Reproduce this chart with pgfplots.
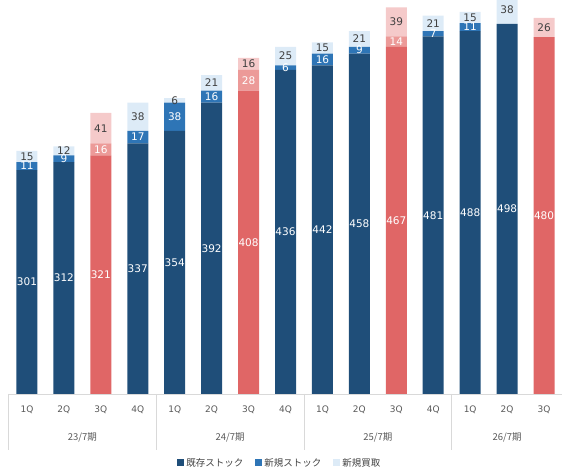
\documentclass[border=0pt]{standalone}
\usepackage{fontspec}
\setmainfont{DejaVu Sans}
\newfontfamily\jp{Noto Sans CJK JP}
\usepackage{pgfplots}
\usepackage{pgfplotstable}
\pgfplotsset{compat=1.18}
\definecolor{navy}{HTML}{1F4E79}
\definecolor{midblue}{HTML}{2E75B6}
\definecolor{lightblue}{HTML}{DDEBF7}
\definecolor{red1}{HTML}{E06666}
\definecolor{red2}{HTML}{EC9A98}
\definecolor{red3}{HTML}{F5CACA}
\definecolor{lblgray}{HTML}{404040}
\definecolor{axgray}{HTML}{D9D9D9}
\definecolor{txtgray}{HTML}{595959}

\pgfplotsset{
  lbl/.style={
    point meta=explicit,
    nodes near coords={\pgfmathfloatifflags{\pgfplotspointmeta}{0}{}{\pgfmathprintnumber[assume math mode=true]{\pgfplotspointmeta}}},
    nodes near coords align=center,
    every node near coord/.append style={font=\fontsize{10.5}{12}\selectfont, text=#1, inner sep=0pt},
  },
}

% columns: existing (blue / red), new stock (blue / red), new purchase (blue / red)
\pgfplotstableread{
x  eb  er  nb  nr  pb  pr
0  301 0   11  0   15  0
1  312 0   9   0   12  0
2  0   321 0   16  0   41
3  337 0   17  0   38  0
4  354 0   38  0   6   0
5  392 0   16  0   21  0
6  0   408 0   28  0   16
7  436 0   6   0   25  0
8  442 0   16  0   15  0
9  458 0   9   0   21  0
10 0   467 0   14  0   39
11 481 0   7   0   21  0
12 488 0   11  0   15  0
13 498 0   0   0   38  0
14 0   480 0   0   0   26
}\data

\begin{document}
\begin{tikzpicture}
\useasboundingbox (0,0) rectangle (562pt,470pt);
\begin{axis}[
  at={(8.5pt,76pt)}, anchor=south west,
  scale only axis, width=554pt, height=394pt,
  xmin=-0.5, xmax=14.5, ymin=0, ymax=530,
  ybar stacked, bar width=21pt,
  clip=false,
  axis y line=none,
  axis x line*=bottom,
  x axis line style={axgray, line width=0.8pt, -},
  xtick={0,...,14},
  xticklabels={1Q,2Q,3Q,4Q,1Q,2Q,3Q,4Q,1Q,2Q,3Q,4Q,1Q,2Q,3Q},
  major tick length=0pt,
  xticklabel style={anchor=center, yshift=-16pt, font=\fontsize{9}{10}\selectfont, text=txtgray},
  legend style={at={(axis description cs:0.49,-0.175)}, anchor=center, draw=none, fill=none,
    legend columns=3, font=\jp\fontsize{9.5}{11}\selectfont, text=lblgray,
    /tikz/every even column/.append style={column sep=10pt}},
  legend image code/.code={\fill[#1] (0pt,-3.5pt) rectangle (7pt,3.5pt);},
]
\addplot[fill=navy, draw=none, lbl=white] table[x=x, y=eb, meta=eb] {\data};
\addlegendentry{既存ストック}
\addplot[fill=red1, draw=none, lbl=white, forget plot] table[x=x, y=er, meta=er] {\data};
\addplot[fill=midblue, draw=none, lbl=white] table[x=x, y=nb, meta=nb] {\data};
\addlegendentry{新規ストック}
\addplot[fill=red2, draw=none, lbl=white, forget plot] table[x=x, y=nr, meta=nr] {\data};
\addplot[fill=lightblue, draw=none, lbl=lblgray] table[x=x, y=pb, meta=pb] {\data};
\addlegendentry{新規買取}
\addplot[fill=red3, draw=none, lbl=lblgray, forget plot] table[x=x, y=pr, meta=pr] {\data};

\pgfplotsinvokeforeach{-0.5,3.5,7.5,11.5}{
  \draw[axgray, line width=0.8pt] (axis cs:#1,0) -- ([yshift=-56pt]axis cs:#1,0);
}
\node[font=\jp\fontsize{9.5}{11}\selectfont, text=txtgray, yshift=-43pt] at (axis cs:1.5,0) {23/7期};
\node[font=\jp\fontsize{9.5}{11}\selectfont, text=txtgray, yshift=-43pt] at (axis cs:5.5,0) {24/7期};
\node[font=\jp\fontsize{9.5}{11}\selectfont, text=txtgray, yshift=-43pt] at (axis cs:9.5,0) {25/7期};
\node[font=\jp\fontsize{9.5}{11}\selectfont, text=txtgray, yshift=-43pt] at (axis cs:13,0) {26/7期};
\end{axis}
\end{tikzpicture}
\end{document}
